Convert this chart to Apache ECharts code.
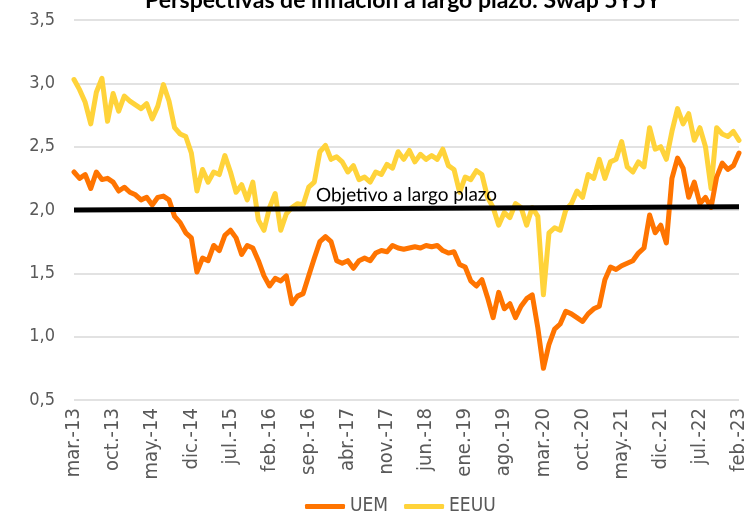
<!DOCTYPE html>
<html>
<head>
<meta charset="utf-8">
<script src="https://cdn.jsdelivr.net/npm/echarts@6/dist/echarts.min.js"></script>
<style>
  html, body { margin: 0; padding: 0; background: #fff; }
  #chart { width: 749px; height: 515px; }
</style>
</head>
<body>
<div id="chart"></div>
<script>
// meses en castellano, serie mensual mar.-13 .. feb.-23
var monthNames = ['ene.', 'feb.', 'mar.', 'abr.', 'may.', 'jun.', 'jul.', 'ago.', 'sep.', 'oct.', 'nov.', 'dic.'];
var categories = [];
for (var i = 0; i < 120; i++) {
  var mIdx = (2 + i) % 12;
  var yr = 13 + Math.floor((2 + i) / 12);
  categories.push(monthNames[mIdx] + '-' + yr);
}

var uem = [
  2.30, 2.25, 2.28, 2.17, 2.30, 2.24, 2.25, 2.22, 2.15, 2.18,
  2.14, 2.12, 2.08, 2.10, 2.04, 2.10, 2.11, 2.08, 1.95, 1.90,
  1.82, 1.78, 1.51, 1.62, 1.60, 1.72, 1.68, 1.80, 1.84, 1.78,
  1.65, 1.72, 1.70, 1.60, 1.48, 1.40, 1.46, 1.44, 1.48, 1.26,
  1.32, 1.34, 1.48, 1.62, 1.75, 1.79, 1.75, 1.60, 1.58, 1.60,
  1.54, 1.60, 1.62, 1.60, 1.66, 1.68, 1.67, 1.72, 1.70, 1.69,
  1.70, 1.71, 1.70, 1.72, 1.71, 1.72, 1.68, 1.66, 1.67, 1.57,
  1.55, 1.44, 1.40, 1.45, 1.31, 1.15, 1.35, 1.22, 1.26, 1.15,
  1.24, 1.30, 1.33, 1.07, 0.75, 0.94, 1.06, 1.10, 1.20, 1.18,
  1.15, 1.12, 1.18, 1.22, 1.24, 1.45, 1.55, 1.53, 1.56, 1.58,
  1.60, 1.66, 1.70, 1.96, 1.82, 1.88, 1.74, 2.25, 2.41, 2.33,
  2.10, 2.22, 2.05, 2.10, 2.02, 2.26, 2.37, 2.32, 2.35, 2.45
];

var eeuu = [
  3.03, 2.95, 2.85, 2.68, 2.93, 3.04, 2.70, 2.92, 2.78, 2.90,
  2.86, 2.83, 2.80, 2.84, 2.72, 2.82, 2.99, 2.86, 2.65, 2.60,
  2.58, 2.45, 2.15, 2.32, 2.22, 2.30, 2.28, 2.43, 2.30, 2.14,
  2.20, 2.08, 2.22, 1.92, 1.84, 2.02, 2.13, 1.84, 1.97, 2.02,
  2.05, 2.04, 2.18, 2.22, 2.46, 2.51, 2.40, 2.42, 2.38, 2.30,
  2.35, 2.24, 2.26, 2.22, 2.30, 2.28, 2.36, 2.33, 2.46, 2.40,
  2.47, 2.38, 2.44, 2.40, 2.43, 2.40, 2.48, 2.35, 2.32, 2.14,
  2.26, 2.24, 2.31, 2.28, 2.10, 2.02, 1.88, 1.98, 1.94, 2.05,
  2.02, 1.88, 2.02, 1.95, 1.33, 1.82, 1.86, 1.84, 2.00, 2.05,
  2.15, 2.10, 2.28, 2.25, 2.40, 2.25, 2.38, 2.40, 2.54, 2.34,
  2.30, 2.38, 2.34, 2.65, 2.48, 2.50, 2.40, 2.62, 2.80, 2.68,
  2.76, 2.55, 2.65, 2.50, 2.17, 2.65, 2.60, 2.58, 2.62, 2.55
];

// objetivo a largo plazo (inicio y fin)
var objetivo = [2.0, 2.025];

var yTicks = [0.5, 1.0, 1.5, 2.0, 2.5, 3.0, 3.5];

var chart = echarts.init(document.getElementById('chart'));
chart.setOption({
  animation: false,
  title: {
    text: 'Perspectivas de inflación a largo plazo: Swap 5Y5Y',
    left: 140,
    top: -16,
    textStyle: { fontFamily: 'Lato', fontSize: 23, fontWeight: 'bold', color: '#000' }
  },
  legend: {
    bottom: -6,
    left: 300,
    icon: 'roundRect',
    itemWidth: 40,
    itemHeight: 5,
    itemGap: 16,
    textStyle: { fontFamily: 'DejaVu Sans Condensed', fontSize: 19, color: '#595959' },
    data: ['UEM', 'EEUU']
  },
  grid: { left: 74, right: 6, top: 20, bottom: 115 },
  xAxis: {
    type: 'category',
    data: categories,
    boundaryGap: false,
    axisLine: { show: false },
    axisTick: { show: false },
    axisLabel: {
      interval: 6,
      rotate: 90,
      margin: 8,
      fontFamily: 'DejaVu Sans Condensed',
      fontSize: 20,
      color: '#595959'
    }
  },
  yAxis: {
    type: 'value',
    min: yTicks[0],
    max: yTicks[yTicks.length - 1],
    interval: 0.5,
    axisLine: { show: false },
    axisTick: { show: false },
    splitLine: { lineStyle: { color: '#d9d9d9', width: 1.5 } },
    axisLabel: {
      margin: 19,
      fontFamily: 'DejaVu Sans Condensed',
      fontSize: 18,
      color: '#595959',
      formatter: function (v) { return v.toFixed(1).replace('.', ','); }
    }
  },
  series: [
    {
      name: 'UEM',
      type: 'line',
      data: uem,
      showSymbol: false,
      z: 3,
      itemStyle: { color: '#FF7400' },
      lineStyle: { color: '#FF7400', width: 5, cap: 'round', join: 'round' }
    },
    {
      name: 'EEUU',
      type: 'line',
      data: eeuu,
      showSymbol: false,
      z: 2,
      itemStyle: { color: '#FFD33A' },
      lineStyle: { color: '#FFD33A', width: 5, cap: 'round', join: 'round' },
      markLine: {
        silent: true,
        symbol: ['none', 'none'],
        z: 5,
        lineStyle: { color: '#000', width: 5, type: 'solid' },
        label: {
          show: true,
          position: 'middle',
          formatter: 'Objetivo a largo plazo',
          fontFamily: 'Lato',
          fontSize: 19,
          color: '#000',
          distance: 4
        },
        data: [[
          { coord: [0, objetivo[0]] },
          { coord: [categories.length - 1, objetivo[1]] }
        ]]
      }
    }
  ]
});
</script>
</body>
</html>
